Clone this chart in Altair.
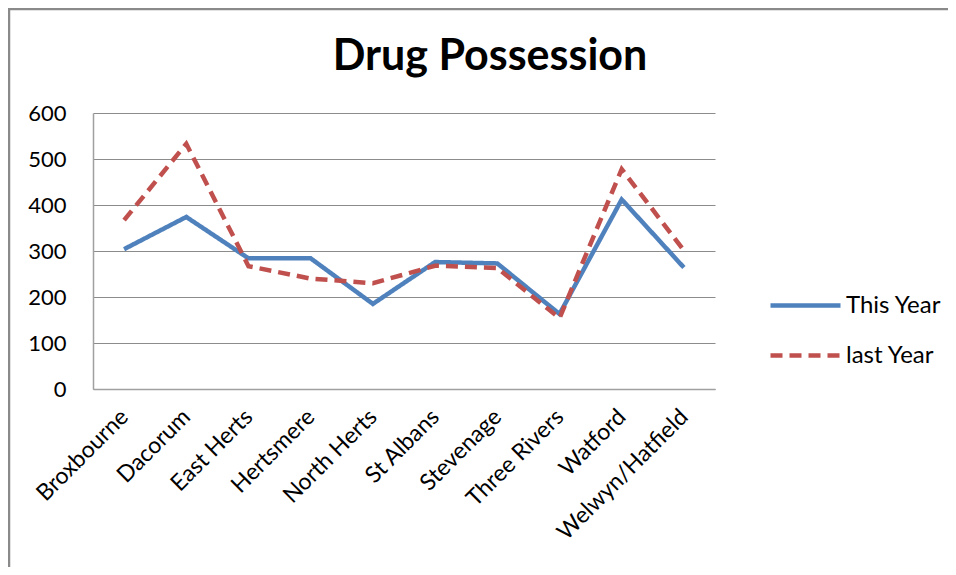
import altair as alt
import pandas as pd

districts = ["Broxbourne", "Dacorum", "East Herts", "Hertsmere", "North Herts",
             "St Albans", "Stevenage", "Three Rivers", "Watford", "Welwyn/Hatfield"]
this_year = [304, 374, 284, 284, 185, 276, 273, 163, 412, 264]
last_year = [367, 533, 267, 240, 230, 268, 263, 154, 478, 301]
series_names = ["This Year", "last Year"]
y_ticks = [0, 100, 200, 300, 400, 500, 600]

rows = []
for d, a, b in zip(districts, this_year, last_year):
    rows.append({"district": d, "series": series_names[0], "value": a})
    rows.append({"district": d, "series": series_names[1], "value": b})
df = pd.DataFrame(rows)

FONT = "Lato"

legend_kw = dict(title=None, orient="none", legendX=675, legendY=155,
                 symbolType="stroke", symbolSize=4900, symbolStrokeWidth=4.5,
                 labelFontSize=24, labelFont=FONT, labelColor="#000000",
                 rowPadding=-23, labelOffset=3)

lines = alt.Chart(df).mark_line(strokeWidth=4.5, strokeCap="butt", strokeJoin="miter").encode(
    x=alt.X("district:N", sort=districts,
            scale=alt.Scale(type="point", padding=0.5),
            axis=alt.Axis(title=None, labelAngle=-45, labelAlign="right", labelBaseline="middle",
                          labelFontSize=23, labelFont=FONT, labelColor="#000000", labelLimit=0,
                          ticks=False, labelPadding=24, domainColor="#a0a0a0", domainWidth=1.5,
                          grid=False)),
    y=alt.Y("value:Q", scale=alt.Scale(domain=[0, 600], nice=False),
            axis=alt.Axis(title=None, values=y_ticks, labelFontSize=22, labelFont=FONT,
                          labelColor="#000000", ticks=False, labelPadding=27,
                          domainColor="#a0a0a0", domainWidth=1.5,
                          gridColor="#8c8c8c", gridWidth=1.2)),
    color=alt.Color("series:N", sort=series_names,
                    scale=alt.Scale(domain=series_names, range=["#4F81BD", "#C0504D"]),
                    legend=alt.Legend(**legend_kw)),
    strokeDash=alt.StrokeDash("series:N", sort=series_names,
                              scale=alt.Scale(domain=series_names, range=[[1, 0], [12, 7]]),
                              legend=alt.Legend(**legend_kw)),
)

# chart-area frame (left and top edges, as in the reference)
frame_df = pd.DataFrame({"edge": ["left", "top"]})
frame_left = alt.Chart(frame_df).transform_filter(alt.datum.edge == "left").mark_rule(
    color="#8a8a8a", strokeWidth=2.5).encode(
    x=alt.value(-84), y=alt.value(-105), y2=alt.value(454))
frame_top = alt.Chart(frame_df).transform_filter(alt.datum.edge == "top").mark_rule(
    color="#8a8a8a", strokeWidth=2.5).encode(
    x=alt.value(-85), x2=alt.value(855), y=alt.value(-104))

chart = alt.layer(frame_left, frame_top, lines).properties(
    width=622, height=276,
    title=alt.TitleParams("Drug Possession", fontSize=43, fontWeight="bold", font=FONT,
                          color="#000000", anchor="middle", dx=86, dy=149, offset=43,
                          baseline="alphabetic"),
    autosize=alt.AutoSizeParams(type="none"),
    padding={"left": 85, "top": 105, "right": 233, "bottom": 178},
).configure(background="#ffffff").configure_view(stroke="transparent")

chart.save("out.html", embed_options={"renderer": "svg", "actions": False})
